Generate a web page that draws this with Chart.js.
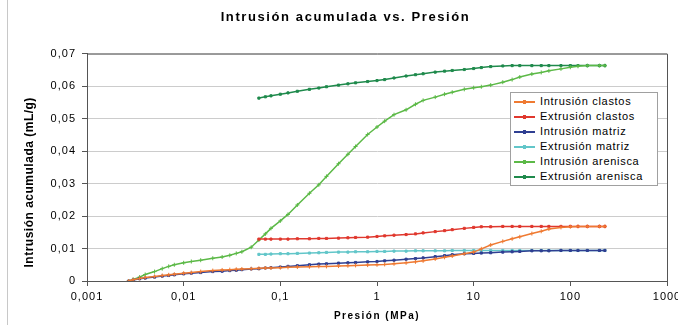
<!DOCTYPE html>
<html lang="es">
<head>
<meta charset="utf-8">
<title>Intrusión acumulada vs. Presión</title>
<script src="https://cdn.jsdelivr.net/npm/chart.js@4/dist/chart.umd.min.js"></script>
<style>
  html, body { margin: 0; padding: 0; background: #fff; }
  #wrap { position: relative; width: 678px; height: 325px; overflow: hidden; }
  #edge { position: absolute; left: 7px; top: 0; height: 325px; border-left: 1px solid #c8c8c8; }
  #legend {
    position: absolute; left: 510px; top: 92px; width: 146px; height: 91px;
    border: 1px solid #a0a0a0; background: #fff; padding-top: 1px;
    font-family: "Liberation Sans", Arial, sans-serif; font-size: 11px;
    letter-spacing: 0.7px; color: #000;
  }
  #legend .item { height: 15px; line-height: 15px; white-space: nowrap; }
  #legend .sample { display: inline-block; position: relative; width: 21px; height: 2px; margin: 0 5px 0 3px; vertical-align: middle; }
  #legend .sample i { position: absolute; left: 9px; top: -1px; width: 3px; height: 4px; }
</style>
</head>
<body>
<div id="wrap">
  <canvas id="chart" width="678" height="325"></canvas>
  <div id="edge"></div>
  <div id="legend"></div>
</div>
<script>
// Pressure (MPa) steps
const presionIntrusion = [0.0027, 0.003, 0.0035, 0.004, 0.005, 0.006, 0.007, 0.008, 0.01, 0.012, 0.015, 0.02, 0.025, 0.03, 0.035, 0.04, 0.05, 0.06, 0.07, 0.08, 0.1, 0.12, 0.15, 0.2, 0.25, 0.3, 0.4, 0.5, 0.6, 0.8, 1, 1.2, 1.5, 2, 2.5, 3, 4, 5, 6, 8, 10, 12, 15, 20, 25, 30, 40, 50, 60, 80, 100, 120, 150, 200, 228];
const presionExtrusion = [0.06, 0.07, 0.08, 0.1, 0.12, 0.15, 0.2, 0.25, 0.3, 0.4, 0.5, 0.6, 0.8, 1, 1.2, 1.5, 2, 2.5, 3, 4, 5, 6, 8, 10, 12, 15, 20, 25, 30, 40, 50, 60, 80, 100, 120, 150, 200, 228];

// cumulative volume (mL/g)
const intrusionClastos = [0, 0.0004, 0.0008, 0.0011, 0.0014, 0.0017, 0.0019, 0.0021, 0.0024, 0.0026, 0.0029, 0.0032, 0.0034, 0.0035, 0.0036, 0.0037, 0.0038, 0.0039, 0.004, 0.004, 0.0041, 0.0042, 0.0043, 0.0044, 0.0045, 0.0045, 0.0046, 0.0047, 0.0048, 0.0049, 0.005, 0.0051, 0.0053, 0.0056, 0.0059, 0.0062, 0.0068, 0.0073, 0.0077, 0.0084, 0.0089, 0.0099, 0.0111, 0.0122, 0.013, 0.0136, 0.0146, 0.0153, 0.016, 0.0165, 0.0167, 0.0168, 0.0168, 0.0168, 0.0168];
const extrusionClastos = [0.0129, 0.0129, 0.0129, 0.0129, 0.0129, 0.013, 0.013, 0.0131, 0.0131, 0.0132, 0.0133, 0.0134, 0.0135, 0.0137, 0.0139, 0.0141, 0.0143, 0.0145, 0.0148, 0.0152, 0.0155, 0.0158, 0.0162, 0.0165, 0.0167, 0.0167, 0.0168, 0.0168, 0.0168, 0.0168, 0.0168, 0.0168, 0.0168, 0.0168, 0.0168, 0.0168, 0.0168, 0.0168];
const intrusionMatriz = [0, 0.0003, 0.0007, 0.0009, 0.0012, 0.0015, 0.0017, 0.0019, 0.0022, 0.0024, 0.0026, 0.0029, 0.003, 0.0032, 0.0033, 0.0035, 0.0037, 0.0038, 0.004, 0.0041, 0.0043, 0.0045, 0.0047, 0.005, 0.0052, 0.0053, 0.0055, 0.0056, 0.0057, 0.0059, 0.006, 0.0062, 0.0064, 0.0067, 0.0069, 0.0071, 0.0075, 0.0078, 0.0081, 0.0084, 0.0085, 0.0086, 0.0087, 0.0089, 0.009, 0.0091, 0.0093, 0.0093, 0.0093, 0.0094, 0.0094, 0.0094, 0.0094, 0.0094, 0.0094];
const extrusionMatriz = [0.0082, 0.0082, 0.0083, 0.0084, 0.0084, 0.0085, 0.0086, 0.0087, 0.0088, 0.0089, 0.0089, 0.009, 0.009, 0.0091, 0.0091, 0.0092, 0.0092, 0.0093, 0.0093, 0.0093, 0.0093, 0.0094, 0.0094, 0.0094, 0.0094, 0.0094, 0.0094, 0.0094, 0.0094, 0.0094, 0.0094, 0.0094, 0.0094, 0.0094, 0.0094, 0.0094, 0.0094, 0.0094];
const intrusionArenisca = [0, 0.0005, 0.0012, 0.002, 0.0029, 0.0038, 0.0045, 0.005, 0.0056, 0.006, 0.0064, 0.007, 0.0074, 0.0079, 0.0085, 0.009, 0.0104, 0.0126, 0.0145, 0.0162, 0.0185, 0.0205, 0.0234, 0.027, 0.0296, 0.0322, 0.0361, 0.039, 0.0414, 0.0451, 0.0474, 0.0492, 0.0512, 0.0527, 0.0544, 0.0556, 0.0566, 0.0575, 0.0581, 0.059, 0.0595, 0.0598, 0.0603, 0.0612, 0.062, 0.0628, 0.0637, 0.0642, 0.0647, 0.0653, 0.0658, 0.0661, 0.0663, 0.0663, 0.0663];
const extrusionArenisca = [0.0563, 0.0567, 0.057, 0.0575, 0.0579, 0.0584, 0.059, 0.0594, 0.0598, 0.0603, 0.0607, 0.061, 0.0614, 0.0617, 0.062, 0.0625, 0.0631, 0.0635, 0.0638, 0.0643, 0.0646, 0.0648, 0.0651, 0.0654, 0.0657, 0.066, 0.0662, 0.0663, 0.0663, 0.0663, 0.0663, 0.0663, 0.0663, 0.0663, 0.0663, 0.0663, 0.0663, 0.0663];

const xTicks = [0.001, 0.01, 0.1, 1, 10, 100, 1000];
const yTicks = [0, 0.01, 0.02, 0.03, 0.04, 0.05, 0.06, 0.07];

const FONT = '"Liberation Sans", Arial, sans-serif';

function pts(xs, ys) {
  return xs.map((x, i) => ({ x: x, y: ys[i] }));
}

function serie(label, xs, ys, color, style) {
  return {
    label: label,
    data: pts(xs, ys),
    borderColor: color,
    backgroundColor: color,
    pointBackgroundColor: color,
    pointBorderColor: color,
    borderWidth: 1.5,
    pointStyle: style,
    pointRadius: style === 'cross' ? 2 : 1.5,
    pointBorderWidth: 1,
    tension: 0,
    fill: false
  };
}

const datasets = [
  serie('Intrusión clastos', presionIntrusion, intrusionClastos, '#ef7a32', 'cross'),
  serie('Extrusión clastos', presionExtrusion, extrusionClastos, '#e0382e', 'rect'),
  serie('Intrusión matriz', presionIntrusion, intrusionMatriz, '#2f3f92', 'rect'),
  serie('Extrusión matriz', presionExtrusion, extrusionMatriz, '#62c6c9', 'rect'),
  serie('Intrusión arenisca', presionIntrusion, intrusionArenisca, '#5cb947', 'cross'),
  serie('Extrusión arenisca', presionExtrusion, extrusionArenisca, '#1f8a4c', 'rect')
];

// wrap a draw function so its text gets its own letter spacing / shift
function spaced(obj, fn, sp, dy) {
  if (!obj || obj['_orig_' + fn]) return;
  const orig = obj[fn].bind(obj);
  obj['_orig_' + fn] = orig;
  obj[fn] = function (...a) {
    const c = this.ctx;
    c.save();
    c.letterSpacing = sp;
    c.translate(0, dy || 0);
    orig(...a);
    c.restore();
  };
}

const textPlugin = {
  id: 'textSpacing',
  beforeDraw(chart) {
    chart.ctx.letterSpacing = '1px';
    spaced(chart.titleBlock, 'draw', '1.6px', 0);
    spaced(chart.scales.x, 'drawTitle', '1.5px', 0);
    spaced(chart.scales.y, 'drawTitle', '0.5px', 15);
  }
};

// top and right edges of the plot box
const framePlugin = {
  id: 'frame',
  beforeDatasetsDraw(chart) {
    const { ctx, chartArea: a } = chart;
    ctx.save();
    ctx.strokeStyle = '#555';
    ctx.lineWidth = 1;
    ctx.beginPath();
    ctx.moveTo(a.left, a.top + 0.5);
    ctx.lineTo(a.right + 0.5, a.top + 0.5);
    ctx.lineTo(a.right + 0.5, a.bottom);
    ctx.stroke();
    ctx.restore();
  }
};

const chart = new Chart(document.getElementById('chart'), {
  type: 'line',
  data: { datasets: datasets },
  options: {
    responsive: false,
    animation: false,
    events: [],
    layout: { padding: { left: 24, right: 11, top: 0, bottom: 0 } },
    plugins: {
      legend: { display: false },
      tooltip: { enabled: false },
      title: {
        display: true,
        text: 'Intrusión acumulada vs. Presión',
        color: '#000',
        font: { family: FONT, size: 13, weight: 'bold' },
        padding: { top: 10, bottom: 28 }
      }
    },
    scales: {
      x: {
        type: 'logarithmic',
        min: 0.001,
        max: 1000,
        afterBuildTicks: s => { s.ticks = xTicks.map(v => ({ value: v })); },
        afterFit: s => { s.height = 44; s.paddingLeft = 0; s.paddingRight = 0; },
        grid: { drawOnChartArea: false, drawTicks: true, tickLength: 5, tickColor: '#555' },
        border: { display: true, color: '#555', width: 1 },
        ticks: {
          autoSkip: false, maxRotation: 0, padding: 4, color: '#000',
          font: { family: FONT, size: 11 },
          callback: v => String(v).replace('.', ',')
        },
        title: {
          display: true, text: 'Presión (MPa)', color: '#000',
          font: { family: FONT, size: 10, weight: 'bold' },
          padding: { top: 0, bottom: 3 }
        }
      },
      y: {
        min: 0,
        max: 0.07,
        afterBuildTicks: s => { s.ticks = yTicks.map(v => ({ value: v })); },
        afterFit: s => { s.width = 63; s.paddingTop = 0; s.paddingBottom = 0; },
        grid: { color: '#cccccc', tickColor: '#555', tickLength: 5 },
        border: { display: true, color: '#555', width: 1 },
        ticks: {
          padding: 6, color: '#000',
          font: { family: FONT, size: 11 },
          callback: v => v === 0 ? '0' : v.toFixed(2).replace('.', ',')
        },
        title: {
          display: true, text: 'Intrusión acumulada (mL/g)', color: '#000',
          font: { family: FONT, size: 12, weight: 'bold', lineHeight: 1 },
          padding: { top: 0, bottom: 0 }
        }
      }
    }
  },
  plugins: [textPlugin, framePlugin]
});

// Legend boxed inside the plot, built from the datasets
const legendBox = document.getElementById('legend');
chart.data.datasets.forEach(ds => {
  const row = document.createElement('div');
  row.className = 'item';
  row.innerHTML = `<span class="sample" style="background:${ds.borderColor}"><i style="background:${ds.pointBackgroundColor}"></i></span>${ds.label}`;
  legendBox.appendChild(row);
});
</script>
</body>
</html>
